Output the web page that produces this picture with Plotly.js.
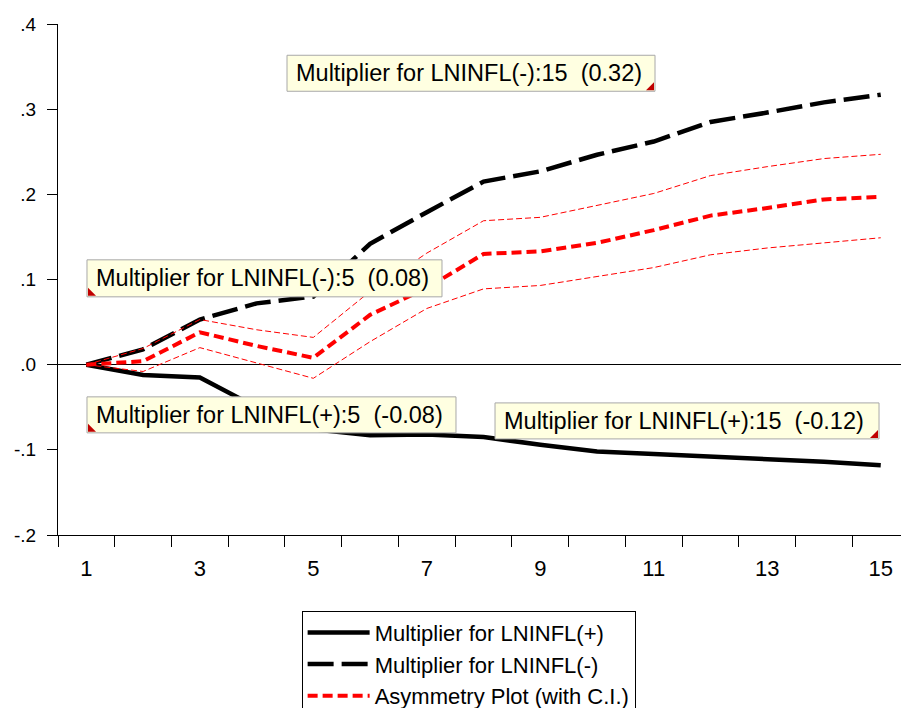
<!DOCTYPE html>
<html>
<head>
<meta charset="utf-8">
<script src="https://cdn.plot.ly/plotly-3.0.1.min.js"></script>
<style>
html,body{margin:0;padding:0;background:#fff;}
#chart{width:901px;height:708px;}
</style>
</head>
<body>
<div id="chart"></div>
<script>
// ---- data ----
const periods = [1,2,3,4,5,6,7,8,9,10,11,12,13,14,15];
const multPos = [0,-0.012,-0.015,-0.050,-0.076,-0.083,-0.082,-0.085,-0.094,-0.102,-0.105,-0.108,-0.110,-0.114,-0.118];
const multNeg = [0,0.018,0.053,0.072,0.080,0.142,0.179,0.215,0.227,0.2465,0.262,0.285,0.296,0.308,0.317];
const asym    = [0,0.004,0.038,0.022,0.008,0.0585,0.090,0.130,0.133,0.143,0.158,0.175,0.184,0.194,0.197];
const ciUpper = [0,0.019,0.053,0.041,0.032,0.086,0.131,0.169,0.173,0.187,0.201,0.222,0.2325,0.242,0.247];
const ciLower = [0,-0.008,0.020,0.002,-0.016,0.027,0.066,0.089,0.093,0.1035,0.114,0.129,0.137,0.143,0.149];
const seriesNames = ['Multiplier for LNINFL(+)','Multiplier for LNINFL(-)','Asymmetry Plot (with C.I.)'];
const xTickLabels = ['1','3','5','7','9','11','13','15'];
const yTickVals = [-0.2,-0.1,0,0.1,0.2,0.3,0.4];
const yTickText = ['-.2','-.1','.0','.1','.2','.3','.4'];
const noteTexts = [
  'Multiplier for LNINFL(-):15\u00a0\u00a0(0.32)',
  'Multiplier for LNINFL(-):5\u00a0\u00a0(0.08)',
  'Multiplier for LNINFL(+):5\u00a0\u00a0(-0.08)',
  'Multiplier for LNINFL(+):15\u00a0\u00a0(-0.12)'
];

// ---- layout config (positions of the text boxes) ----
const FONT = 'Liberation Sans, Arial, sans-serif';
const boxes = [
  {x:4.536, y:0.3633, w:368, h:36, corner:'br'},
  {x:1.011, y:0.1231, w:355, h:37, corner:'bl'},
  {x:1.011, y:-0.0378, w:369, h:36, corner:'bl'},
  {x:8.202, y:-0.0449, w:384, h:36, corner:'br'}
];

const traces = [
  {x:periods, y:multPos, name:seriesNames[0], mode:'lines',
   line:{color:'#000000', width:4.5}},
  {x:periods, y:multNeg, name:seriesNames[1], mode:'lines',
   line:{color:'#000000', width:4.5, dash:'26px,8px'}},
  {x:periods, y:ciUpper, name:'upper', mode:'lines', showlegend:false,
   line:{color:'#ff0000', width:1, dash:'6px,3px'}},
  {x:periods, y:ciLower, name:'lower', mode:'lines', showlegend:false,
   line:{color:'#ff0000', width:1, dash:'6px,3px'}},
  {x:periods, y:asym, name:seriesNames[2], mode:'lines',
   line:{color:'#ff0000', width:4, dash:'10px,5px'}},
  {x:[], y:[], xaxis:'x2', showlegend:false, hoverinfo:'skip', mode:'lines'}
];

const xRange = [0.5, 15.357];
const halfTicks = [];
for (let i = 0; i < periods.length; i++) halfTicks.push(periods[i] - 0.5);
const oddVals = xTickLabels.map(Number);

const shapes = [];
const annotations = [];
boxes.forEach((b, i) => {
  shapes.push({type:'rect', xref:'x', yref:'y', xsizemode:'pixel', ysizemode:'pixel',
    xanchor:b.x, yanchor:b.y, x0:0, x1:b.w, y0:0, y1:-b.h,
    fillcolor:'#FFFFE1', line:{color:'#A8A8A8', width:1}, layer:'above'});
  let p;
  const t = 8, bot = -(b.h - 1);
  if (b.corner === 'bl') {
    p = `M1,${bot} L${1+t},${bot} L1,${bot+t} Z`;
  } else {
    const r = b.w - 1;
    p = `M${r},${bot} L${r-t},${bot} L${r},${bot+t} Z`;
  }
  shapes.push({type:'path', xref:'x', yref:'y', xsizemode:'pixel', ysizemode:'pixel',
    xanchor:b.x, yanchor:b.y, path:p, fillcolor:'#C00000', line:{width:0}, layer:'above'});
  annotations.push({xref:'x', yref:'y', x:b.x, y:b.y, xanchor:'left', yanchor:'middle',
    xshift:7, yshift:-b.h/2, showarrow:false, text:noteTexts[i],
    font:{family:FONT, size:23.5, color:'#000000'}});
});

const layout = {
  width:901, height:708,
  margin:{l:58, r:0, t:24, b:173, autoexpand:false},
  paper_bgcolor:'#ffffff', plot_bgcolor:'#ffffff',
  font:{family:FONT, color:'#000000'},
  showlegend:true,
  xaxis:{range:xRange, tickmode:'array', tickvals:halfTicks, showticklabels:false,
    ticks:'outside', ticklen:11, tickwidth:1, tickcolor:'#000000',
    showline:true, linecolor:'#000000', linewidth:1, showgrid:false, zeroline:false,
    fixedrange:true},
  xaxis2:{range:xRange, overlaying:'x', anchor:'y', side:'bottom', tickmode:'array',
    tickvals:oddVals, ticktext:xTickLabels, ticks:'outside', ticklen:11,
    tickcolor:'rgba(0,0,0,0)', ticklabelstandoff:3,
    tickfont:{family:FONT, size:22, color:'#000000'},
    showline:false, showgrid:false, zeroline:false},
  yaxis:{range:[-0.2,0.4], tickmode:'array', tickvals:yTickVals, ticktext:yTickText,
    ticks:'outside', ticklen:10, tickwidth:1, tickcolor:'#000000',
    ticklabelstandoff:7,
    tickfont:{family:FONT, size:19, color:'#000000'},
    showline:true, linecolor:'#000000', linewidth:1, showgrid:false,
    zeroline:true, zerolinecolor:'#000000', zerolinewidth:1},
  legend:{x:0.289, y:-0.148, xanchor:'left', yanchor:'top', orientation:'v',
    bgcolor:'#ffffff', bordercolor:'#000000', borderwidth:1,
    font:{family:FONT, size:22, color:'#000000'}, itemwidth:62, tracegroupgap:0},
  shapes:shapes,
  annotations:annotations
};

Plotly.newPlot('chart', traces, layout, {displayModeBar:false, staticPlot:true});
</script>
</body>
</html>
